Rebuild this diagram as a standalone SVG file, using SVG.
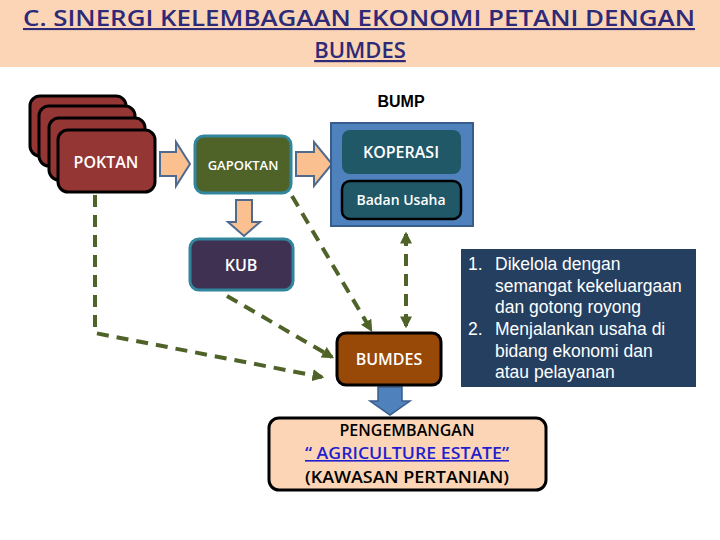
<svg xmlns="http://www.w3.org/2000/svg" width="720" height="540" viewBox="0 0 720 540">
<style>
.t{font-family:"Open Sans","Liberation Sans",sans-serif;fill:#fff;text-anchor:middle;font-weight:600}
.ar{fill:#fac090;stroke:#4f6a8f;stroke-width:2}
.dl{fill:none;stroke:#4f6228;stroke-width:4;stroke-dasharray:12 8}
.pk{fill:#943634;stroke:#000;stroke-width:3}
</style>
<defs>
<marker id="ah" viewBox="0 0 10 10" refX="8" refY="5" markerWidth="3" markerHeight="3" orient="auto-start-reverse"><path d="M0,0L10,5L0,10z" fill="#4f6228"/></marker>
</defs>
<rect width="720" height="540" fill="#fff"/>
<rect width="720" height="67" fill="#fbd5b5"/>
<text x="359" y="26" font-family="Open Sans,Liberation Sans,sans-serif" font-size="21" font-weight="600" fill="#2e2a78" text-anchor="middle" text-decoration="underline" textLength="672" lengthAdjust="spacingAndGlyphs">C. SINERGI KELEMBAGAAN EKONOMI PETANI DENGAN</text>
<text x="360" y="58" font-family="Open Sans,Liberation Sans,sans-serif" font-size="22" font-weight="600" fill="#2e2a78" text-anchor="middle" text-decoration="underline">BUMDES</text>
<g id="connectors">
<polyline class="dl" points="95,195 95,333 322,377" marker-end="url(#ah)"/>
<line class="dl" x1="227" y1="296" x2="332" y2="357" marker-end="url(#ah)"/>
<line class="dl" x1="292" y1="196" x2="371" y2="330" marker-end="url(#ah)"/>
<line class="dl" x1="406" y1="234" x2="406" y2="326" marker-start="url(#ah)" marker-end="url(#ah)"/>
<path class="ar" d="M160,152H176V142L190,164L176,186V176H160Z"/>
<path class="ar" d="M296,152H314V142L332,164L314,186V176H296Z"/>
<path class="ar" d="M236,200H252V222H260L244,236L228,222H236Z"/>
<path d="M378,387H402V401H410L390,415L370,401H378Z" fill="#4f81bd" stroke="#385d8a" stroke-width="1.5"/>
</g>
<g id="poktan">
<rect class="pk" x="30" y="96" width="96" height="60" rx="10"/>
<rect class="pk" x="39" y="106" width="96" height="60" rx="10"/>
<rect class="pk" x="49" y="118" width="96" height="62" rx="10"/>
<rect class="pk" x="58" y="130" width="97" height="62" rx="10"/>
<text class="t" x="106" y="168" font-size="16">POKTAN</text>
</g>
<g id="gapoktan">
<rect x="195" y="136" width="96" height="57" rx="9" fill="#4f6228" stroke="#31859c" stroke-width="3"/>
<text class="t" x="243" y="170" font-size="13">GAPOKTAN</text>
</g>
<g id="bump">
<text x="401" y="107" font-family="Liberation Sans,sans-serif" font-size="16" text-anchor="middle" font-weight="bold" fill="#000">BUMP</text>
<rect x="331" y="123" width="142" height="103" fill="#4f81bd" stroke="#385d8a" stroke-width="2"/>
</g>
<g id="koperasi">
<rect x="342" y="130" width="119" height="44" rx="8" fill="#215868"/>
<text class="t" x="401" y="158" font-size="16">KOPERASI</text>
</g>
<g id="badan">
<rect x="342" y="181" width="119" height="38" rx="8" fill="#215868" stroke="#000" stroke-width="2.5"/>
<text class="t" x="401" y="205" font-size="14">Badan Usaha</text>
</g>
<g id="kub">
<rect x="190" y="239" width="103" height="51" rx="9" fill="#3f3151" stroke="#31859c" stroke-width="3"/>
<text class="t" x="241" y="271" font-size="16">KUB</text>
</g>
<g id="bumdes">
<rect x="337" y="333" width="104" height="52" rx="9" fill="#984807" stroke="#000" stroke-width="3"/>
<text class="t" x="389" y="365" font-size="16">BUMDES</text>
</g>
<g id="info">
<rect x="461" y="249" width="235" height="138" fill="#243f60"/>
<g font-family="Liberation Sans,sans-serif" font-size="17.5" fill="#fff">
<text x="468" y="270">1.</text>
<text x="495" y="270">Dikelola dengan</text>
<text x="495" y="292">semangat kekeluargaan</text>
<text x="495" y="313">dan gotong royong</text>
<text x="468" y="335">2.</text>
<text x="495" y="335">Menjalankan usaha di</text>
<text x="495" y="357">bidang ekonomi dan</text>
<text x="495" y="378">atau pelayanan</text>
</g>
</g>
<g id="pengembangan">
<rect x="269" y="418" width="277" height="72" rx="10" fill="#fbd5b5" stroke="#000" stroke-width="3"/>
<g font-family="Open Sans,Liberation Sans,sans-serif" font-size="16" font-weight="600" text-anchor="middle">
<text x="407" y="436" fill="#000">PENGEMBANGAN</text>
<text x="407" y="459" fill="#1f1fcf" text-decoration="underline" textLength="204" lengthAdjust="spacingAndGlyphs">“ AGRICULTURE ESTATE”</text>
<text x="407" y="483" fill="#000" textLength="204" lengthAdjust="spacingAndGlyphs">(KAWASAN PERTANIAN)</text>
</g>
</g>
</svg>
